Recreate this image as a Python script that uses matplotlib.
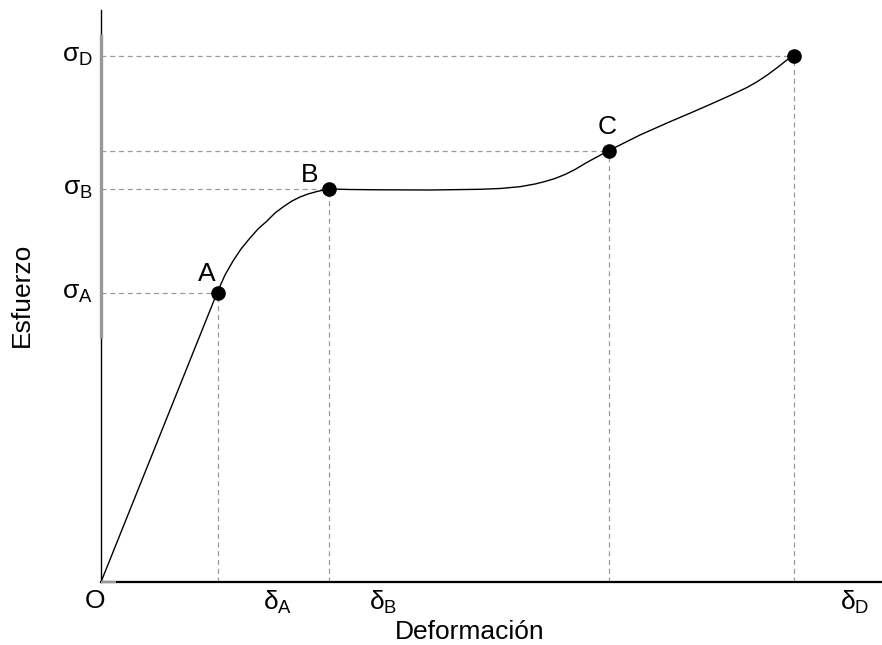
import matplotlib
matplotlib.use("Agg")
import matplotlib.pyplot as plt

plt.rcParams['font.family'] = ['Liberation Sans', 'DejaVu Sans']
plt.rcParams['mathtext.fontset'] = 'custom'
plt.rcParams['mathtext.rm'] = 'Liberation Sans'
plt.rcParams['mathtext.it'] = 'Liberation Sans'

# Curve (strain, stress)
curve_x = [0, 116, 124, 132, 140, 149, 157, 166, 174, 182, 191, 199, 207, 216, 227,
           249, 279, 329, 379, 399, 419, 434, 444, 454, 464, 474, 484, 494, 507,
           524, 539, 566, 589, 609, 629, 646, 656, 666, 676, 691]
curve_y = [0, 289, 307, 321, 333, 344, 353, 361, 369, 375, 381, 385, 388, 390.5, 393,
           392.5, 392.2, 392, 392.7, 393.5, 395.3, 398, 400.5, 403.5, 407.5, 412.5, 418.5, 424, 431,
           439.5, 447, 459, 468.8, 477.5, 486.5, 494.5, 500.2, 506.8, 514.2, 526]

# Key points
point_names = ['A', 'B', 'C', 'D']
point_x = [117, 227.5, 508, 693]
point_y = [289, 393, 431, 526]
point_label_xy = {'A': (106, 308), 'B': (209, 407), 'C': (506, 455)}

sigma_labels = ['σ$_{\\mathrm{A}}$', 'σ$_{\\mathrm{B}}$', 'σ$_{\\mathrm{D}}$']
sigma_vals = [289, 393, 526]
delta_labels = ['δ$_{\\mathrm{A}}$', 'δ$_{\\mathrm{B}}$', 'δ$_{\\mathrm{D}}$']
delta_pos = [177, 282, 754]

fig = plt.figure(figsize=(8.82, 6.45), dpi=100)
ax = fig.add_axes([101/882, 63/645, 781/882, 572/645])
ax.set_xlim(0, 781)
ax.set_ylim(0, 572)
for s in ['top', 'right']:
    ax.spines[s].set_visible(False)
ax.spines['left'].set_linewidth(1.0)
ax.spines['bottom'].set_linewidth(1.6)
ax.set_xticks([])
ax.set_yticks([])

dash_col = '#9a9a9a'
ax.hlines(point_y, 0, point_x, colors=dash_col, linestyles=(0, (4, 3)), linewidth=0.9, zorder=1)
ax.vlines(point_x, 0, point_y, colors=dash_col, linestyles=(0, (4, 3)), linewidth=0.9, zorder=1)

ax.plot(curve_x, curve_y, color='black', linewidth=1.0, zorder=2, solid_joinstyle='round')
ax.plot(point_x, point_y, 'o', color='black', markersize=9.5, zorder=4)

# gray overlay segments seen on the axes
ax.plot([0, 0], [244, 548], color='#999999', linewidth=2.4, clip_on=False, zorder=3, solid_capstyle='butt')
ax.plot([0, 15], [0, 0], color='#999999', linewidth=1.6, clip_on=False, zorder=3, solid_capstyle='butt')

fs = 19
for n, (lx, ly) in point_label_xy.items():
    ax.text(lx, ly, n, fontsize=fs, ha='center', va='center')

for lab, v in zip(sigma_labels, sigma_vals):
    ax.text(-8, v, lab, fontsize=fs, ha='right', va='center', clip_on=False)

for lab, p in zip(delta_labels, delta_pos):
    ax.text(p, -7, lab, fontsize=fs, ha='center', va='top', clip_on=False)

ax.text(-6, -7, 'O', fontsize=fs, ha='center', va='top', clip_on=False)

fig.text(470/882, (645-632)/645, 'Deformación', fontsize=fs, ha='center', va='center')
ax.text(-79, 287, 'Esfuerzo', fontsize=fs, rotation=90, ha='center', va='center', clip_on=False)

fig.savefig('out.png', dpi=100)
